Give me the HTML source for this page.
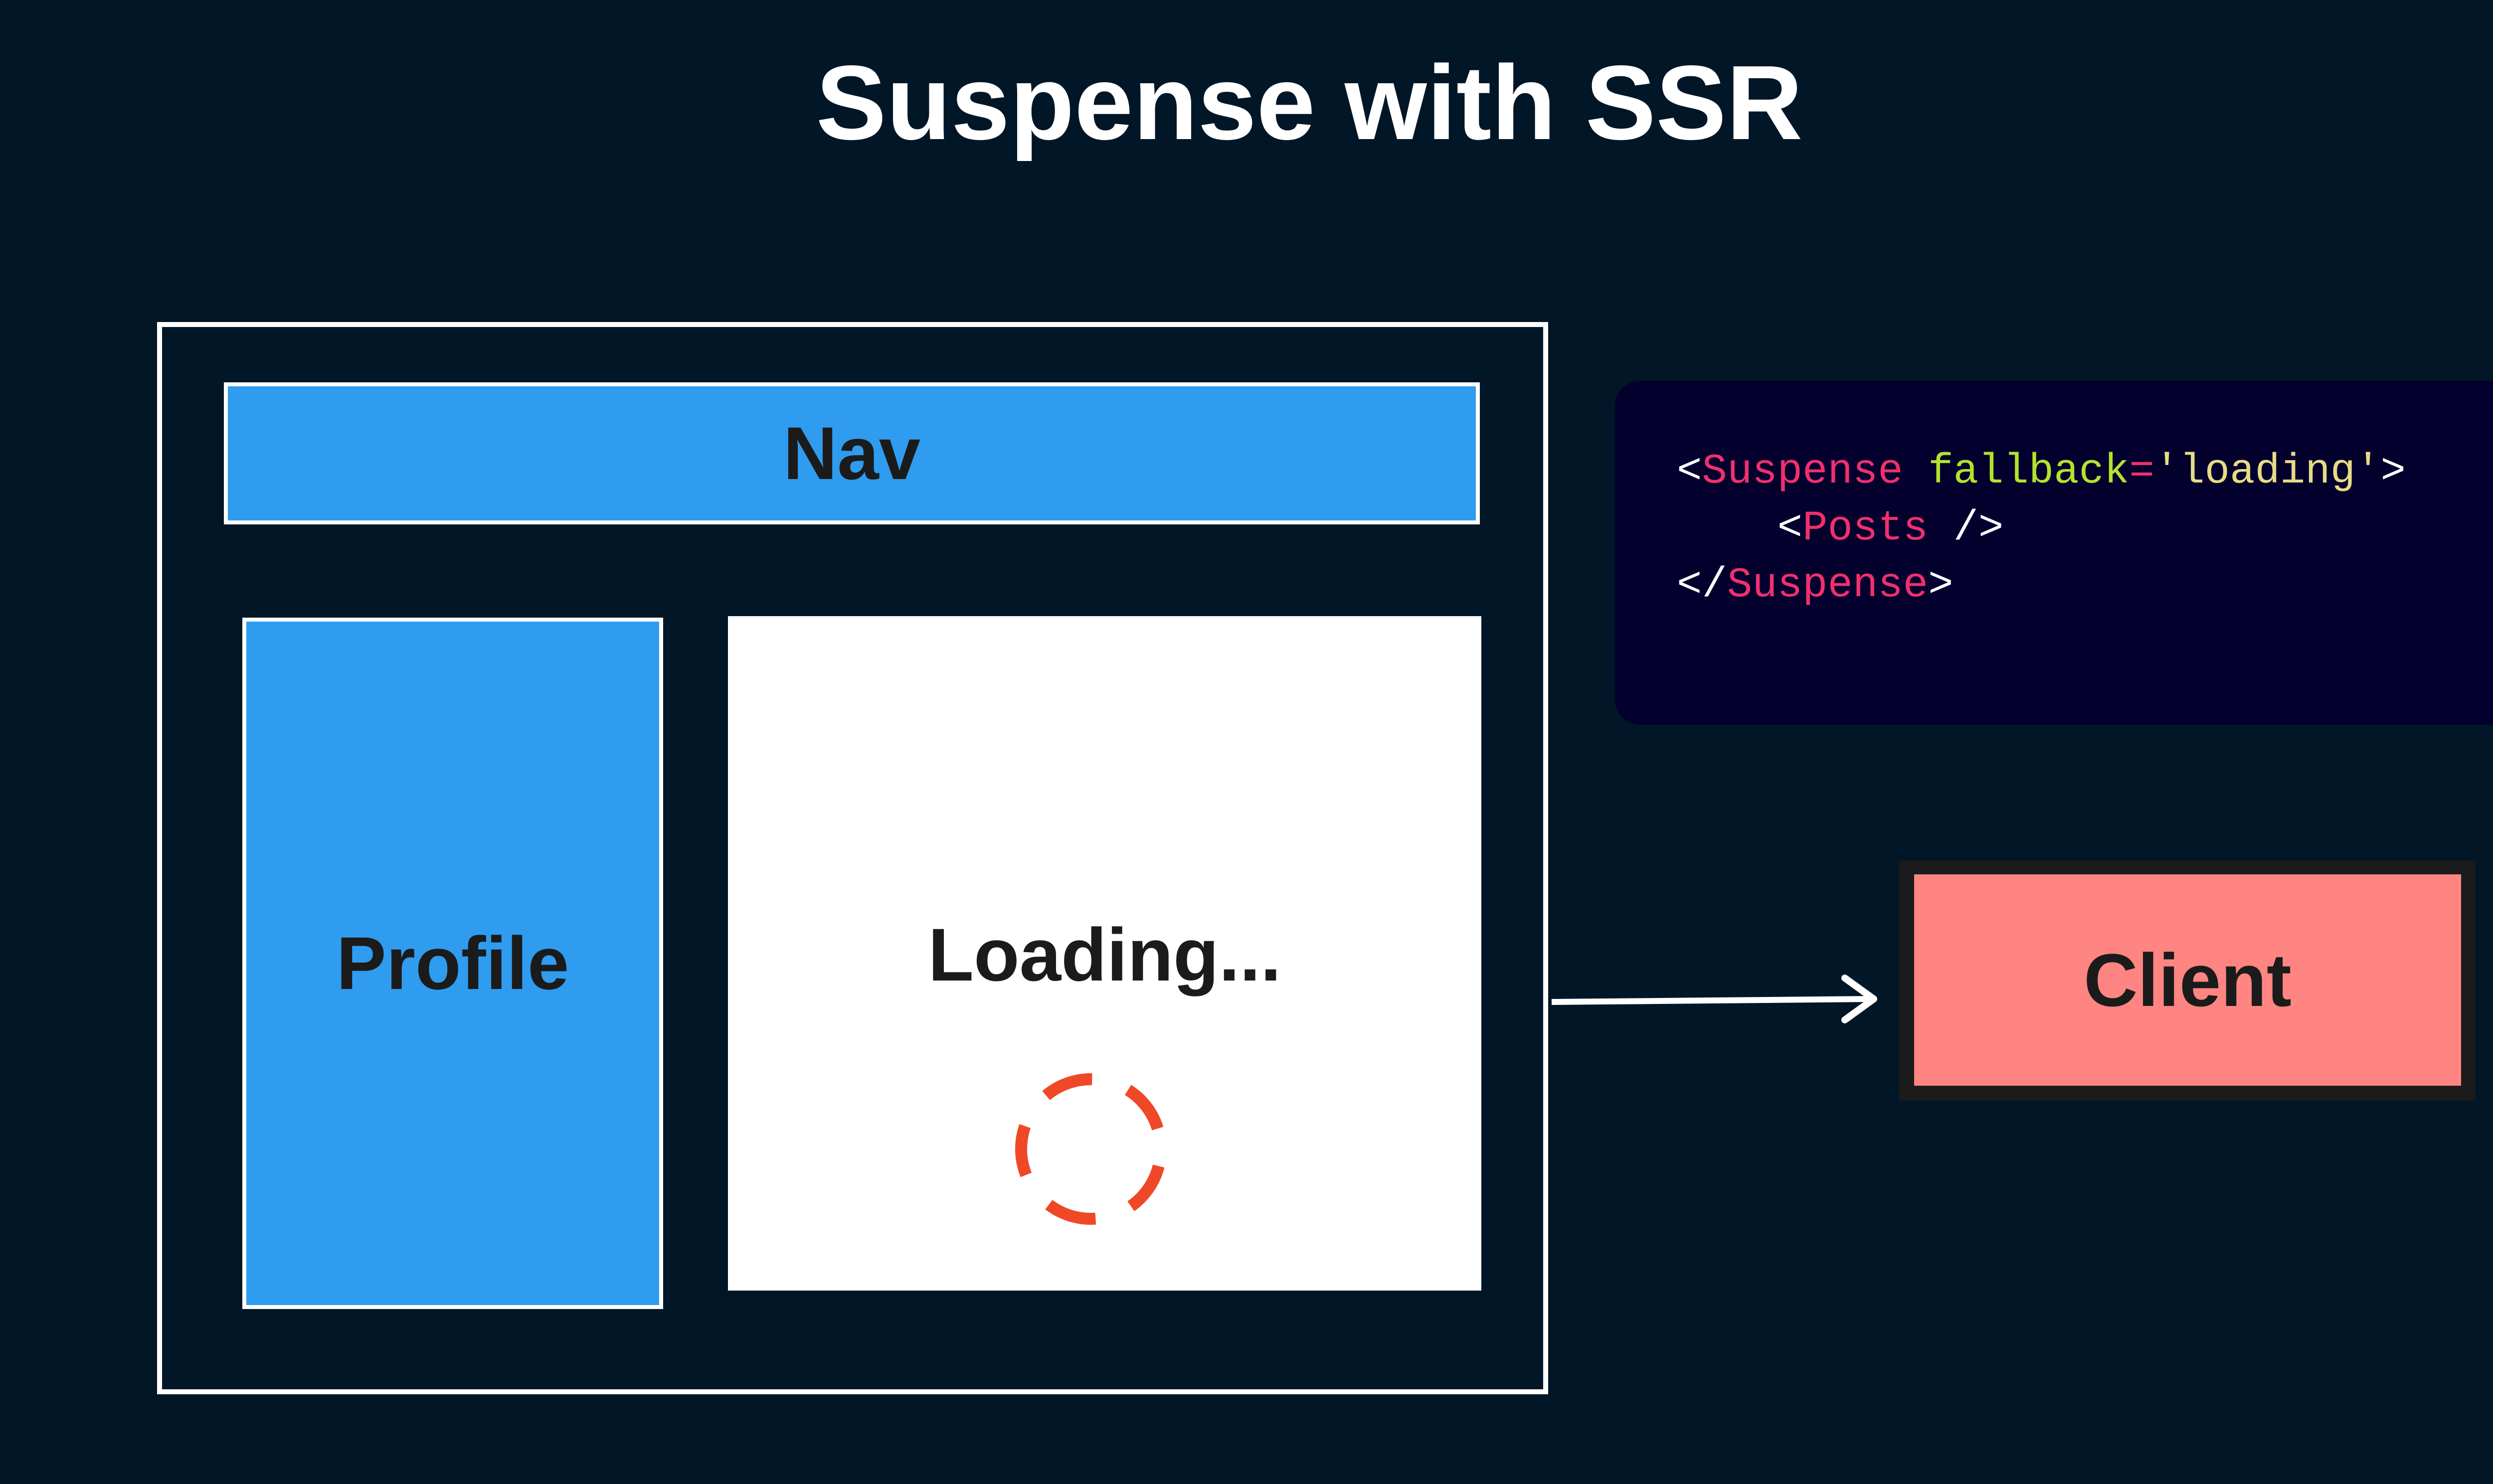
<!DOCTYPE html>
<html><head><meta charset="utf-8"><style>
html,body{margin:0;padding:0;}
body{width:5252px;height:2977px;background:#011627;position:relative;overflow:hidden;font-family:"Liberation Sans",sans-serif;}
.abs{position:absolute;box-sizing:border-box;}
.lbl{display:flex;align-items:center;justify-content:center;font-weight:bold;color:#1b1b1b;}
.code{position:absolute;left:3363px;font-family:"Liberation Mono",monospace;font-size:84px;color:#fff;white-space:pre;line-height:1;}
.t{color:#f0306e}.a{color:#b4e22d}.s{color:#e7dc86}
</style></head><body>
<div class="abs" style="left:0;top:100px;width:5252px;text-align:center;color:#fff;font-weight:bold;font-size:212px;line-height:1;">Suspense with SSR</div>

<div class="abs" style="left:315px;top:646px;width:2790px;height:2151px;border:10px solid #fff;"></div>
<div class="abs lbl" style="left:449px;top:767px;width:2519px;height:285px;background:#2f9cf0;border:8px solid #fff;font-size:150px;">Nav</div>
<div class="abs lbl" style="left:486px;top:1239px;width:844px;height:1387px;background:#2f9cf0;border:8px solid #fff;font-size:150px;">Profile</div>
<div class="abs" style="left:1460px;top:1236px;width:1511px;height:1353px;background:#fff;"></div>
<div class="abs lbl" style="left:1460px;top:1820px;width:1511px;height:190px;font-size:150px;">Loading...</div>

<svg class="abs" style="left:0;top:0" width="5252" height="2977">
<circle cx="2188" cy="2305" r="140" fill="none" stroke="#ef4827" stroke-width="24" stroke-dasharray="100 76" transform="rotate(-130 2188 2305)"/>
<line x1="3112" y1="2010" x2="3755" y2="2004" stroke="#fff" stroke-width="12"/>
<polyline points="3700,1962 3758,2004 3700,2046" fill="none" stroke="#fff" stroke-width="14" stroke-linejoin="round" stroke-linecap="round"/>
</svg>

<div class="abs" style="left:3239px;top:764px;width:1842px;height:690px;background:#03002e;border-radius:50px;"></div>
<div class="code" style="top:905px;">&lt;<span class="t">Suspense</span> <span class="a">fallback</span><span class="t">=</span><span class="s">'loading'</span>&gt;</div>
<div class="code" style="top:1019px;">    &lt;<span class="t">Posts</span> /&gt;</div>
<div class="code" style="top:1133px;">&lt;/<span class="t">Suspense</span>&gt;</div>

<div class="abs" style="left:3809px;top:1726px;width:1156px;height:482px;background:#1b1b1b;"></div>
<div class="abs lbl" style="left:3839px;top:1754px;width:1097px;height:424px;background:#ff8582;font-size:150px;">Client</div>
</body></html>
